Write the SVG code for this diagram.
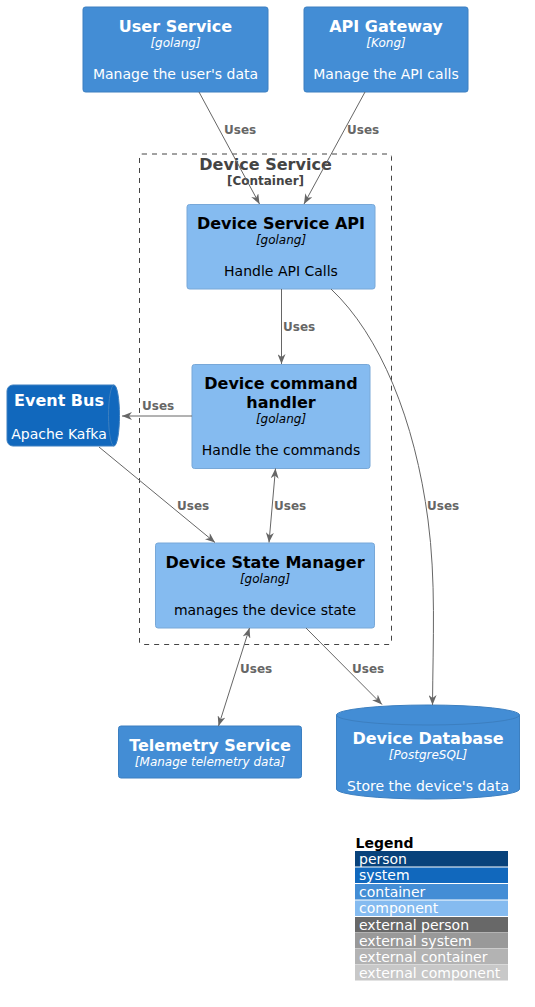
<svg xmlns="http://www.w3.org/2000/svg" width="535" height="1007" viewBox="0 0 535 1007">
<style>
text{font-family:"DejaVu Sans","Noto Sans",sans-serif;text-anchor:middle}
.t{font-size:16px;font-weight:bold}
.s{font-size:12px;font-style:italic}
.d{font-size:14px}
.w{fill:#FFFFFF}
.b{fill:#000000}
.cont{fill:#438DD5;stroke:#3C7FC0;stroke-width:1}
.comp{fill:#85BBF0;stroke:#78A8D8;stroke-width:1}
.lnk{fill:none;stroke:#666666;stroke-width:1}
.lbl{font-size:12px;font-weight:bold;fill:#666666;text-anchor:start}
.lg{font-size:14px;fill:#FFFFFF;text-anchor:start}
</style>
<defs>
<marker id="ah" viewBox="0 0 10 8" refX="10" refY="4" markerWidth="10" markerHeight="8" markerUnits="userSpaceOnUse" orient="auto-start-reverse">
<path d="M0,0 L10,4 L0,8 L3,4 Z" fill="#666666"/>
</marker>
</defs>
<rect width="535" height="1007" fill="#FFFFFF"/>

<g id="boundary-device-service">
<rect x="139.5" y="154" width="252" height="490.5" rx="2.5" fill="none" stroke="#444444" stroke-width="1" stroke-dasharray="5,5"/>
<text x="265.5" y="170" style="font-size:16px;font-weight:bold" fill="#444444">Device Service</text>
<text x="265.5" y="185" style="font-size:12px;font-weight:bold" fill="#444444">[Container]</text>
</g>

<g id="user-service">
<rect class="cont" x="83" y="7" width="185" height="85" rx="2.5"/>
<text class="t w" x="175.5" y="32">User Service</text>
<text class="s w" x="175.5" y="47">[golang]</text>
<text class="d w" x="175.5" y="79">Manage the user's data</text>
</g>

<g id="api-gateway">
<rect class="cont" x="304" y="7" width="164" height="85" rx="2.5"/>
<text class="t w" x="386" y="32">API Gateway</text>
<text class="s w" x="386" y="47">[Kong]</text>
<text class="d w" x="386" y="79">Manage the API calls</text>
</g>

<g id="device-service-api">
<rect class="comp" x="187" y="204.5" width="188" height="84.5" rx="2.5"/>
<text class="t b" x="281" y="229">Device Service API</text>
<text class="s b" x="281" y="244">[golang]</text>
<text class="d b" x="281" y="276">Handle API Calls</text>
</g>

<g id="device-command-handler">
<rect class="comp" x="192" y="364.5" width="178" height="104" rx="2.5"/>
<text class="t b" x="281" y="389">Device command</text>
<text class="t b" x="281" y="408">handler</text>
<text class="s b" x="281" y="423">[golang]</text>
<text class="d b" x="281" y="455">Handle the commands</text>
</g>

<g id="device-state-manager">
<rect class="comp" x="155.5" y="543" width="219" height="85" rx="2.5"/>
<text class="t b" x="265" y="568">Device State Manager</text>
<text class="s b" x="265" y="583">[golang]</text>
<text class="d b" x="265" y="615">manages the device state</text>
</g>

<g id="event-bus">
<path d="M13,385 L114,385 A5.5,30.5 0 0 1 114,446 L13,446 A6,6 0 0 1 7,440 L7,391 A6,6 0 0 1 13,385 Z" fill="#1168BD" stroke="#3C7FC0" stroke-width="1"/>
<path d="M114,385 A5.5,30.5 0 0 0 114,446" fill="none" stroke="#3C7FC0" stroke-width="1"/>
<text class="t w" x="59" y="406">Event Bus</text>
<text class="d w" x="59" y="439">Apache Kafka</text>
</g>

<g id="telemetry-service">
<rect class="cont" x="118.5" y="726" width="183" height="52" rx="2.5"/>
<text class="t w" x="210" y="751">Telemetry Service</text>
<text class="s w" x="210" y="766">[Manage telemetry data]</text>
</g>

<g id="device-database">
<path d="M336.5,715 A91.5,10 0 0 1 519.5,715 L519.5,789 A91.5,10 0 0 1 336.5,789 Z" class="cont"/>
<path d="M336.5,715 A91.5,10 0 0 0 519.5,715" fill="none" stroke="#3C7FC0" stroke-width="1"/>
<text class="t w" x="428" y="744">Device Database</text>
<text class="s w" x="428" y="759">[PostgreSQL]</text>
<text class="d w" x="428" y="791">Store the device's data</text>
</g>

<g id="connectors">
<path class="lnk" d="M199,92 L259.5,204" marker-end="url(#ah)"/>
<text class="lbl" x="224" y="134">Uses</text>
<path class="lnk" d="M365,92 L304,204" marker-end="url(#ah)"/>
<text class="lbl" x="347" y="134">Uses</text>
<path class="lnk" d="M281.5,289 L281.5,364" marker-end="url(#ah)"/>
<text class="lbl" x="283" y="331">Uses</text>
<path class="lnk" d="M331,289 C380,335 415,420 428,520 C436,580 433,640 432.5,705" marker-end="url(#ah)"/>
<text class="lbl" x="427" y="510">Uses</text>
<path class="lnk" d="M192,416 L122,416" marker-end="url(#ah)"/>
<text class="lbl" x="142" y="410">Uses</text>
<path class="lnk" d="M99,447 L215,542.5" marker-end="url(#ah)"/>
<text class="lbl" x="177" y="510">Uses</text>
<path class="lnk" d="M275.5,468.5 L269,542.5" marker-start="url(#ah)" marker-end="url(#ah)"/>
<text class="lbl" x="274" y="510">Uses</text>
<path class="lnk" d="M249.5,628 L218.5,726" marker-start="url(#ah)" marker-end="url(#ah)"/>
<text class="lbl" x="240" y="673">Uses</text>
<path class="lnk" d="M306,628 L382,704.5" marker-end="url(#ah)"/>
<text class="lbl" x="352" y="673">Uses</text>
</g>

<g id="legend">
<text x="355.5" y="848" style="font-size:14px;font-weight:bold;text-anchor:start" fill="#000000">Legend</text>
<rect x="355" y="851" width="153" height="15.5" fill="#08427B"/>
<text class="lg" x="359" y="863.5">person</text>
<rect x="355" y="867.5" width="153" height="15.5" fill="#1168BD"/>
<text class="lg" x="359" y="880">system</text>
<rect x="355" y="884" width="153" height="15.5" fill="#438DD5"/>
<text class="lg" x="359" y="896.5">container</text>
<rect x="355" y="900.5" width="153" height="15.5" fill="#85BBF0"/>
<text class="lg" x="359" y="913">component</text>
<rect x="355" y="917" width="153" height="15.5" fill="#686868"/>
<text class="lg" x="359" y="929.5">external person</text>
<rect x="355" y="933" width="153" height="15.5" fill="#999999"/>
<text class="lg" x="359" y="945.5">external system</text>
<rect x="355" y="949" width="153" height="15.5" fill="#B3B3B3"/>
<text class="lg" x="359" y="961.5">external container</text>
<rect x="355" y="965" width="153" height="15.5" fill="#C8C8C8"/>
<text class="lg" x="359" y="977.5">external component</text>
</g>
</svg>
